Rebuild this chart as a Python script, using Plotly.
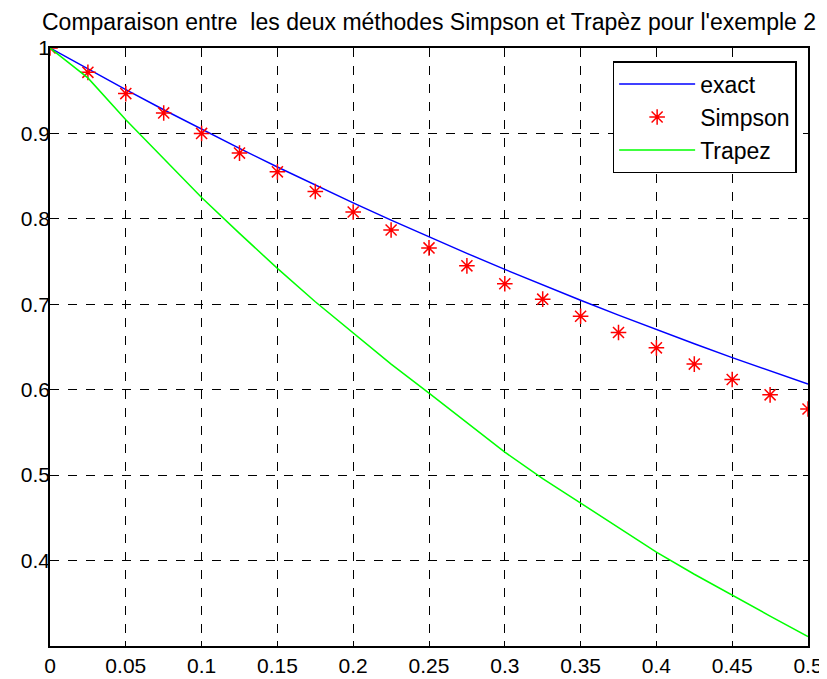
import plotly.graph_objects as go

x = [0, 0.025, 0.05, 0.075, 0.1, 0.125, 0.15, 0.175, 0.2, 0.225, 0.25,
     0.275, 0.3, 0.325, 0.35, 0.375, 0.4, 0.425, 0.45, 0.475, 0.5]
exact = [1.0, 0.9753, 0.9512, 0.9277, 0.9048, 0.8825, 0.8607, 0.8395, 0.8187, 0.7985, 0.7788,
         0.7596, 0.7408, 0.7225, 0.7047, 0.6873, 0.6703, 0.6538, 0.6376, 0.6219, 0.6065]
simpson = [1.0, 0.9715, 0.9466, 0.924, 0.900, 0.877, 0.855, 0.832, 0.808, 0.787, 0.766,
           0.745, 0.724, 0.706, 0.686, 0.667, 0.649, 0.630, 0.612, 0.594, 0.5775]
trapez = [1.0, 0.965, 0.916, 0.870, 0.825, 0.783, 0.742, 0.703, 0.666, 0.630, 0.596,
          0.561, 0.527, 0.496, 0.467, 0.438, 0.410, 0.384, 0.359, 0.335, 0.311]

xtick_vals = [0, 0.05, 0.1, 0.15, 0.2, 0.25, 0.3, 0.35, 0.4, 0.45, 0.5]
xtick_text = ["0", "0.05", "0.1", "0.15", "0.2", "0.25", "0.3", "0.35", "0.4", "0.45", "0.5"]
ytick_vals = [0.4, 0.5, 0.6, 0.7, 0.8, 0.9, 1.0]
ytick_text = ["0.4", "0.5", "0.6", "0.7", "0.8", "0.9", "1"]

title = "Comparaison entre \u00a0les deux méthodes Simpson et Trapèz pour l'exemple 2"

W, H = 819, 671  # page body has an 8px margin

fig = go.Figure()
fig.add_trace(go.Scatter(x=x, y=exact, mode="lines", name="exact",
                         line=dict(color="#0000ff", width=1.5)))
fig.add_trace(go.Scatter(x=x, y=simpson, mode="markers", name="Simpson",
                         marker=dict(symbol="asterisk-open", size=13, color="#ff0000",
                                     line=dict(color="#ff0000", width=1.5))))
fig.add_trace(go.Scatter(x=x, y=trapez, mode="lines", name="Trapez",
                         line=dict(color="#00ff00", width=1.5)))

axis_common = dict(showline=True, linecolor="black", linewidth=1.5, mirror="allticks",
                   ticks="inside", ticklen=5, tickcolor="black", automargin=False,
                   showgrid=True, gridcolor="black", griddash="dash", gridwidth=1,
                   zeroline=False, tickfont=dict(size=21, color="black"))

fig.update_xaxes(range=[0, 0.5], tickvals=xtick_vals, ticktext=xtick_text, **axis_common)
fig.update_yaxes(range=[0.3, 1.0], tickvals=ytick_vals, ticktext=ytick_text,
                 ticklabelstandoff=-6, **axis_common)

fig.update_layout(
    width=W, height=H,
    margin=dict(l=42, r=19, t=40, b=33),
    paper_bgcolor="white", plot_bgcolor="white",
    font=dict(family="Liberation Sans, Arial, sans-serif", color="black", size=21),
    title=dict(text=title, x=0.5, xref="paper", xanchor="center", y=1 - 14 / H,
               yanchor="middle", font=dict(size=23, color="black")),
    legend=dict(x=0.985, y=0.978, xanchor="right", yanchor="top",
                bordercolor="black", borderwidth=1.5, bgcolor="white",
                font=dict(size=23), tracegroupgap=0, itemwidth=76),
    showlegend=True,
)

fig.write_html("out.html")
